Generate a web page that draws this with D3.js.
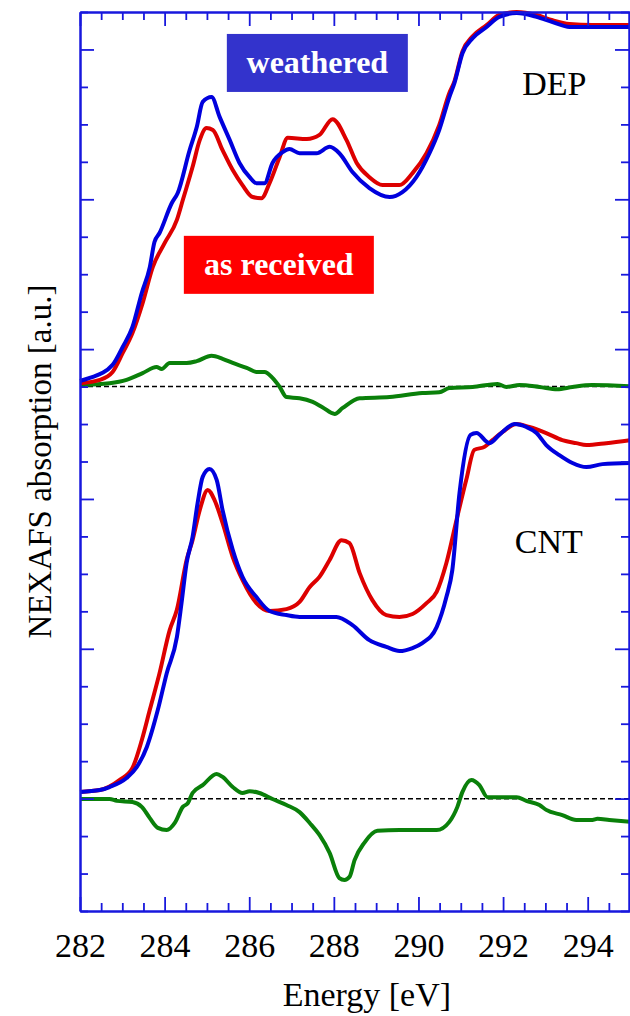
<!DOCTYPE html>
<html>
<head>
<meta charset="utf-8">
<script src="https://cdn.jsdelivr.net/npm/d3@7"></script>
<style>
  body { margin: 0; background: #fff; }
</style>
</head>
<body>
<div id="main-container"></div>
<script>
// DATA  (energy in eV, absorption in arbitrary units)
const energyTicks = [282, 284, 286, 288, 290, 292, 294];
const depBaseline = 14;
const cntBaseline = 3;

const depReceived = [
  [282.00, 14.09], [282.47, 14.18], [282.77, 14.39], [283.01, 14.90], [283.24, 15.43],
  [283.48, 16.23], [283.72, 17.19], [284.00, 17.83], [284.29, 18.45], [284.43, 18.98],
  [284.66, 19.86], [284.83, 20.58], [284.99, 20.90], [285.14, 20.85], [285.37, 20.31],
  [285.61, 19.78], [285.84, 19.38], [286.08, 19.06], [286.29, 19.03], [286.48, 19.43],
  [286.72, 20.13], [286.91, 20.64], [287.36, 20.61], [287.66, 20.72], [287.97, 21.14],
  [288.30, 20.58], [288.54, 19.97], [288.84, 19.59], [289.15, 19.38], [289.55, 19.38],
  [289.86, 19.70], [290.19, 20.23], [290.49, 20.98], [290.73, 21.84], [290.85, 22.15],
  [291.04, 22.95], [291.28, 23.35], [291.61, 23.65], [291.91, 23.92], [292.32, 24.00],
  [292.79, 23.92], [293.17, 23.78], [293.57, 23.68], [294.11, 23.65], [295.00, 23.65]
];

const depWeathered = [
  [282.00, 14.15], [282.23, 14.23], [282.77, 14.58], [283.01, 15.06], [283.24, 15.59],
  [283.46, 16.50], [283.65, 17.19], [283.76, 17.86], [283.88, 18.10], [284.17, 18.90],
  [284.31, 19.17], [284.59, 20.31], [284.76, 20.93], [284.90, 21.60], [285.11, 21.73],
  [285.30, 21.20], [285.54, 20.58], [285.77, 19.97], [286.01, 19.59], [286.17, 19.43],
  [286.36, 19.43], [286.55, 19.97], [286.79, 20.26], [286.95, 20.34], [287.19, 20.23],
  [287.59, 20.23], [287.90, 20.40], [288.13, 20.23], [288.44, 19.73], [288.84, 19.30],
  [289.32, 19.06], [289.62, 19.19], [289.95, 19.59], [290.26, 20.23], [290.49, 20.85],
  [290.73, 21.73], [290.85, 22.10], [291.04, 22.90], [291.28, 23.30], [291.61, 23.60],
  [291.91, 23.87], [292.32, 23.97], [292.79, 23.87], [293.17, 23.73], [293.57, 23.60],
  [294.11, 23.60], [295.00, 23.60]
];

const depDiff = [
  [282.00, 14.04], [282.70, 14.09], [283.10, 14.18], [283.48, 14.36], [283.81, 14.52],
  [283.93, 14.47], [284.12, 14.63], [284.52, 14.63], [284.76, 14.68], [285.11, 14.82],
  [285.37, 14.74], [285.61, 14.63], [285.94, 14.50], [286.17, 14.39], [286.36, 14.39],
  [286.55, 14.23], [286.72, 13.99], [286.88, 13.72], [287.19, 13.69], [287.50, 13.59],
  [287.73, 13.45], [288.02, 13.27], [288.21, 13.43], [288.61, 13.69], [289.32, 13.72],
  [290.09, 13.83], [290.49, 13.85], [290.73, 13.96], [291.28, 13.99], [291.87, 14.07],
  [292.08, 13.99], [292.39, 14.04], [292.86, 13.99], [293.28, 13.93], [293.64, 13.99],
  [294.11, 14.04], [295.00, 14.01]
];

const cntReceived = [
  [282.00, 3.18], [282.47, 3.23], [282.94, 3.50], [283.24, 3.82], [283.46, 4.56],
  [283.65, 5.37], [283.88, 6.35], [284.12, 7.50], [284.29, 8.04], [284.52, 9.37],
  [284.66, 9.90], [284.83, 10.70], [285.02, 11.24], [285.18, 10.97], [285.37, 10.36],
  [285.61, 9.45], [285.84, 8.84], [286.17, 8.22], [286.48, 8.01], [286.88, 8.06],
  [287.19, 8.25], [287.43, 8.65], [287.66, 8.92], [287.90, 9.37], [288.18, 9.90],
  [288.37, 9.82], [288.61, 9.02], [288.91, 8.30], [289.24, 7.90], [289.55, 7.85],
  [289.86, 7.93], [290.19, 8.22], [290.43, 8.52], [290.66, 9.29], [290.90, 10.44],
  [291.13, 11.51], [291.32, 12.31], [291.56, 12.39], [291.75, 12.57], [291.99, 12.79],
  [292.32, 13.00], [292.62, 12.92], [293.02, 12.76], [293.40, 12.57], [293.73, 12.49],
  [293.97, 12.44], [294.44, 12.49], [295.00, 12.57]
];

const cntWeathered = [
  [282.00, 3.18], [282.47, 3.23], [282.70, 3.31], [283.10, 3.55], [283.34, 3.84],
  [283.58, 4.38], [283.84, 5.37], [284.05, 6.35], [284.29, 7.31], [284.40, 8.22],
  [284.52, 9.29], [284.66, 9.98], [284.78, 10.89], [284.90, 11.59], [285.06, 11.80],
  [285.23, 11.51], [285.37, 10.70], [285.61, 9.64], [285.84, 8.92], [286.17, 8.38],
  [286.48, 8.01], [286.88, 7.90], [287.19, 7.85], [288.06, 7.85], [288.44, 7.63],
  [288.84, 7.23], [289.24, 7.05], [289.55, 6.94], [289.86, 7.02], [290.09, 7.15],
  [290.43, 7.58], [290.66, 8.38], [290.80, 9.10], [290.97, 11.16], [291.23, 12.71],
  [291.37, 12.76], [291.68, 12.49], [291.91, 12.71], [292.27, 13.00], [292.55, 12.92],
  [292.79, 12.76], [293.02, 12.44], [293.33, 12.17], [293.64, 11.96], [293.97, 11.85],
  [294.35, 11.93], [295.00, 11.96]
];

const cntDiff = [
  [282.00, 2.99], [282.70, 2.99], [282.87, 2.94], [283.24, 2.91], [283.46, 2.78],
  [283.65, 2.48], [283.84, 2.22], [284.05, 2.16], [284.24, 2.35], [284.43, 2.78],
  [284.55, 2.88], [284.66, 3.15], [284.90, 3.36], [285.23, 3.66], [285.37, 3.58],
  [285.61, 3.31], [285.84, 3.15], [286.01, 3.20], [286.24, 3.15], [286.55, 2.99],
  [286.88, 2.83], [287.19, 2.64], [287.43, 2.35], [287.66, 2.03], [287.90, 1.55],
  [288.13, 0.88], [288.25, 0.83], [288.37, 0.91], [288.49, 1.36], [288.72, 1.82],
  [289.03, 2.14], [289.55, 2.16], [290.43, 2.16], [290.73, 2.38], [290.92, 2.78],
  [291.04, 3.18], [291.25, 3.50], [291.44, 3.36], [291.63, 3.04], [292.32, 3.04],
  [292.55, 2.94], [292.86, 2.83], [293.02, 2.70], [293.40, 2.56], [293.73, 2.43],
  [294.11, 2.43], [294.23, 2.46], [294.51, 2.43], [295.00, 2.38]
];

// labels
const boxLabels = [
  {text: "weathered", e: 287.61, v: 22.64, w: 181, h: 58, fill: "#3333cc"},
  {text: "as received", e: 286.70, v: 17.25, w: 190, h: 58, fill: "#ff0000"}
];
const sampleLabels = [
  {text: "DEP", e: 293.21, v: 21.78},
  {text: "CNT", e: 293.08, v: 9.56}
];

// DRAWING SETUP
const W = 630, H = 1016;
const axisBlue = "#1818dd";
const serif = "'Liberation Serif', 'DejaVu Serif', 'Times New Roman', serif";

const svg = d3.select("#main-container")
  .append("svg")
    .attr("width", W)
    .attr("height", H)
    .style("font-family", serif);

const x = d3.scaleLinear().domain([282, 295]).range([80, 630]);
const y = d3.scaleLinear().domain([0, 24]).range([911, 12]);

const minorX = d3.range(282, 295.01, 0.5).filter(d => d % 2 !== 0);
const yMajor = d3.range(3, 24, 4);
const yMinor = d3.range(0, 25).filter(d => !yMajor.includes(d));

// baselines
svg.selectAll(".base")
  .data([depBaseline, cntBaseline])
  .enter()
  .append("line")
    .attr("x1", x(282)).attr("x2", x(295))
    .attr("y1", d => y(d)).attr("y2", d => y(d))
    .attr("stroke", "#000")
    .attr("stroke-width", 1.5)
    .attr("stroke-dasharray", "5,3");

const line = d3.line()
  .x(d => x(d[0]))
  .y(d => y(d[1]))
  .curve(d3.curveMonotoneX);

const series = [
  {data: depDiff, color: "#0a800a"},
  {data: cntDiff, color: "#0a800a"},
  {data: depReceived, color: "#dd0000"},
  {data: cntReceived, color: "#dd0000"},
  {data: depWeathered, color: "#0000dd"},
  {data: cntWeathered, color: "#0000dd"}
];

svg.selectAll(".curve")
  .data(series)
  .enter()
  .append("path")
    .attr("d", d => line(d.data))
    .attr("fill", "none")
    .attr("stroke", d => d.color)
    .attr("stroke-width", 4)
    .attr("stroke-linejoin", "round");

// AXES
function styleAxis(g) {
  g.attr("font-family", null).attr("font-size", null);
  g.select(".domain").attr("stroke", axisBlue).attr("stroke-width", 2);
  g.selectAll(".tick line").attr("stroke", axisBlue).attr("stroke-width", 1.8);
  g.selectAll(".tick text")
    .attr("fill", "#000")
    .style("font-family", serif)
    .style("font-size", "34px");
}

// bottom
svg.append("g")
  .attr("transform", `translate(0, ${y(0)})`)
  .call(d3.axisBottom(x).tickValues(energyTicks).tickSize(-14).tickSizeOuter(0).tickPadding(22))
  .call(styleAxis);
svg.append("g")
  .attr("transform", `translate(0, ${y(0)})`)
  .call(d3.axisBottom(x).tickValues(minorX).tickSize(-8).tickSizeOuter(0).tickFormat(""))
  .call(styleAxis);
// top
svg.append("g")
  .attr("transform", `translate(0, ${y(24)})`)
  .call(d3.axisTop(x).tickValues(energyTicks).tickSize(-14).tickSizeOuter(0).tickFormat(""))
  .call(styleAxis);
svg.append("g")
  .attr("transform", `translate(0, ${y(24)})`)
  .call(d3.axisTop(x).tickValues(minorX).tickSize(-8).tickSizeOuter(0).tickFormat(""))
  .call(styleAxis);
// left
svg.append("g")
  .attr("transform", `translate(${x(282)}, 0)`)
  .call(d3.axisLeft(y).tickValues(yMajor).tickSize(-14).tickSizeOuter(0).tickFormat(""))
  .call(styleAxis);
svg.append("g")
  .attr("transform", `translate(${x(282)}, 0)`)
  .call(d3.axisLeft(y).tickValues(yMinor).tickSize(-8).tickSizeOuter(0).tickFormat(""))
  .call(styleAxis);
// right
svg.append("g")
  .attr("transform", `translate(${x(295) - 1}, 0)`)
  .call(d3.axisRight(y).tickValues(yMajor).tickSize(-14).tickSizeOuter(0).tickFormat(""))
  .call(styleAxis);
svg.append("g")
  .attr("transform", `translate(${x(295) - 1}, 0)`)
  .call(d3.axisRight(y).tickValues(yMinor).tickSize(-8).tickSizeOuter(0).tickFormat(""))
  .call(styleAxis);

// axis titles
svg.append("text")
  .attr("x", x(288.78))
  .attr("y", 1006)
  .attr("text-anchor", "middle")
  .style("font-family", serif)
  .style("font-size", "34px")
  .text("Energy [eV]");

svg.append("text")
  .attr("transform", `translate(51, ${(y(0) + y(24)) / 2}) rotate(-90)`)
  .attr("text-anchor", "middle")
  .style("font-family", serif)
  .style("font-size", "33px")
  .text("NEXAFS absorption [a.u.]");

// LABELS
const boxes = svg.selectAll(".box")
  .data(boxLabels)
  .enter()
  .append("g")
    .attr("transform", d => `translate(${x(d.e)}, ${y(d.v)})`);

boxes.append("rect")
  .attr("x", d => -d.w / 2)
  .attr("y", d => -d.h / 2)
  .attr("width", d => d.w)
  .attr("height", d => d.h)
  .attr("fill", d => d.fill);

boxes.append("text")
  .attr("text-anchor", "middle")
  .attr("y", 10)
  .attr("fill", "#fff")
  .style("font-family", serif)
  .style("font-weight", "bold")
  .style("font-size", "32px")
  .text(d => d.text);

svg.selectAll(".sample")
  .data(sampleLabels)
  .enter()
  .append("text")
    .attr("x", d => x(d.e))
    .attr("y", d => y(d.v))
    .attr("text-anchor", "middle")
    .style("font-family", serif)
    .style("font-size", "34px")
    .text(d => d.text);
</script>
</body>
</html>
